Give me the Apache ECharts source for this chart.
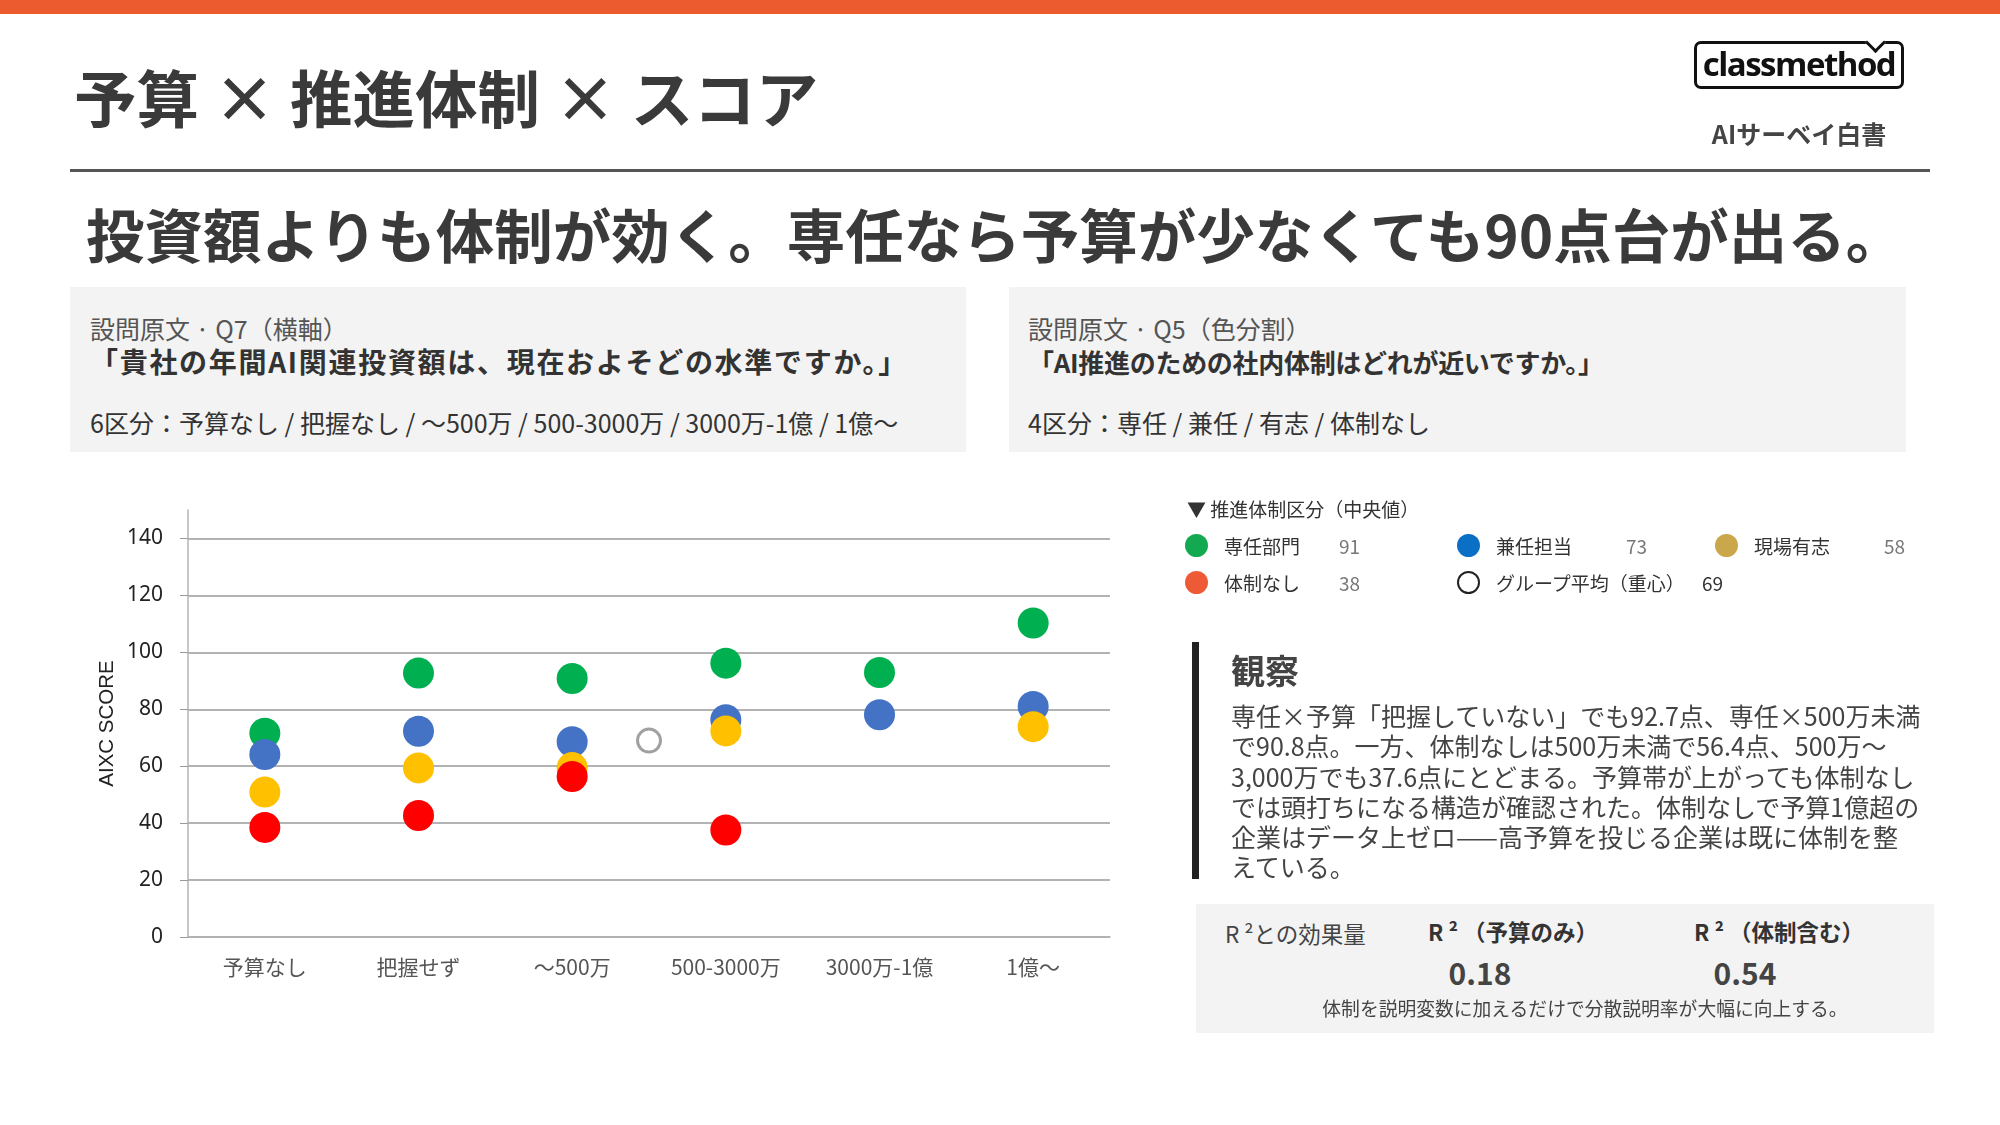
<!DOCTYPE html>
<html>
<head>
<meta charset="utf-8">
<script src="https://cdn.jsdelivr.net/npm/echarts@6/dist/echarts.min.js"></script>
<style>
  html, body { margin: 0; padding: 0; background: #fff; }
  #page { position: relative; width: 2000px; height: 1125px; overflow: hidden;
    font-family: "Noto Sans CJK JP", "Noto Sans", sans-serif; color: #333; }
  #chart { position: absolute; left: 0; top: 0; width: 2000px; height: 1125px; }
  .abs { position: absolute; white-space: nowrap; }
  .box { position: absolute; background: #f3f3f3; }
  .dot { position: absolute; width: 23px; height: 23px; border-radius: 50%; }
  .lg { position: absolute; font-size: 19px; color: #333; line-height: 24px; white-space: nowrap; }
  .lv { position: absolute; font-size: 19px; color: #777; line-height: 24px; }
</style>
</head>
<body>
<div id="page">
  <div id="chart"></div>

  <div class="abs" style="left:0;top:0;width:2000px;height:14px;background:#ec5a30;"></div>
  <div class="abs" style="left:74px;top:56px;font-size:62.5px;font-weight:700;color:#3a3a3a;line-height:80px;">予算 × 推進体制 × スコア</div>

  <div class="abs" style="left:1694px;top:41px;width:204px;height:42px;border:3px solid #111;border-radius:7px;"></div>
  <div class="abs" style="left:1868px;top:35px;width:12px;height:12px;background:#fff;border-right:3px solid #111;border-bottom:3px solid #111;transform:rotate(45deg);"></div>
  <div class="abs" style="left:1694px;top:42px;width:210px;text-align:center;font-family:'Open Sans','Noto Sans',sans-serif;font-size:33px;font-weight:700;color:#111;line-height:44px;letter-spacing:-1.5px;">classmethod</div>
  <div class="abs" style="left:1694px;top:117px;width:210px;text-align:center;font-size:25px;font-weight:700;color:#444;line-height:32px;">AIサーベイ白書</div>

  <div class="abs" style="left:70px;top:169px;width:1860px;height:3px;background:#555;"></div>

  <div class="abs" style="left:86px;top:199px;font-size:58.5px;font-weight:700;color:#3a3a3a;line-height:68px;">投資額よりも体制が効く。専任なら予算が少なくても90点台が出る。</div>

  <div class="box" style="left:70px;top:287px;width:896px;height:165px;"></div>
  <div class="abs" style="left:90px;top:313px;font-size:25px;color:#555;line-height:30px;">設問原文 · Q7（横軸）</div>
  <div class="abs" style="left:90px;top:343px;font-size:28px;font-weight:700;color:#333;line-height:36px;letter-spacing:1.7px;">「貴社の年間AI関連投資額は、現在およそどの水準ですか。」</div>
  <div class="abs" style="left:90px;top:407px;font-size:25px;color:#333;line-height:30px;">6区分：予算なし / 把握なし / 〜500万 / 500-3000万 / 3000万-1億 / 1億〜</div>

  <div class="box" style="left:1009px;top:287px;width:897px;height:165px;"></div>
  <div class="abs" style="left:1028px;top:313px;font-size:25px;color:#555;line-height:30px;">設問原文 · Q5（色分割）</div>
  <div class="abs" style="left:1028px;top:344px;font-size:26px;font-weight:700;color:#333;line-height:36px;letter-spacing:-0.3px;">「AI推進のための社内体制はどれが近いですか。」</div>
  <div class="abs" style="left:1028px;top:407px;font-size:25px;color:#333;line-height:30px;">4区分：専任 / 兼任 / 有志 / 体制なし</div>

  <div class="lg" style="left:1187px;top:497px;">▼ 推進体制区分（中央値）</div>
  <div class="dot" style="left:1185px;top:534px;background:#12a950;"></div>
  <div class="lg" style="left:1224px;top:534px;">専任部門</div>
  <div class="lv" style="left:1339px;top:534px;">91</div>
  <div class="dot" style="left:1457px;top:534px;background:#0b6fc6;"></div>
  <div class="lg" style="left:1496px;top:534px;">兼任担当</div>
  <div class="lv" style="left:1626px;top:534px;">73</div>
  <div class="dot" style="left:1715px;top:534px;background:#c9a74a;"></div>
  <div class="lg" style="left:1754px;top:534px;">現場有志</div>
  <div class="lv" style="left:1884px;top:534px;">58</div>
  <div class="dot" style="left:1185px;top:571px;background:#ee5a35;"></div>
  <div class="lg" style="left:1224px;top:571px;">体制なし</div>
  <div class="lv" style="left:1339px;top:571px;">38</div>
  <div class="dot" style="left:1457px;top:571px;width:19px;height:19px;border:2px solid #222;background:#fff;"></div>
  <div class="lg" style="left:1496px;top:571px;">グループ平均（重心）</div>
  <div class="lg" style="left:1702px;top:571px;">69</div>

  <div class="abs" style="left:1192px;top:642px;width:7px;height:237px;background:#222;"></div>
  <div class="abs" style="left:1231px;top:648px;font-size:34px;font-weight:700;color:#444;line-height:44px;">観察</div>
  <div class="abs" style="left:1231px;top:700px;font-size:25px;color:#444;line-height:30.3px;">専任×予算「把握していない」でも92.7点、専任×500万未満<br>で90.8点。一方、体制なしは500万未満で56.4点、500万〜<br>3,000万でも37.6点にとどまる。予算帯が上がっても体制なし<br>では頭打ちになる構造が確認された。体制なしで予算1億超の<br>企業はデータ上ゼロ——高予算を投じる企業は既に体制を整<br>えている。</div>

  <div class="box" style="left:1196px;top:904px;width:738px;height:129px;"></div>
  <div class="abs" style="left:1225px;top:918px;font-size:22.5px;color:#444;line-height:30px;">R ²との効果量</div>
  <div class="abs" style="left:1413px;top:916px;width:200px;text-align:center;font-size:22.5px;font-weight:700;color:#333;line-height:30px;">R ² （予算のみ）</div>
  <div class="abs" style="left:1679px;top:916px;width:200px;text-align:center;font-size:22.5px;font-weight:700;color:#333;line-height:30px;">R ² （体制含む）</div>
  <div class="abs" style="left:1380px;top:953px;width:200px;text-align:center;font-size:30px;font-weight:700;color:#444;line-height:38px;">0.18</div>
  <div class="abs" style="left:1645px;top:953px;width:200px;text-align:center;font-size:30px;font-weight:700;color:#444;line-height:38px;">0.54</div>
  <div class="abs" style="left:1196px;top:995px;width:778px;text-align:center;font-size:18.8px;color:#444;line-height:26px;">体制を説明変数に加えるだけで分散説明率が大幅に向上する。</div>
</div>

<script>
// 予算区分（横軸）
var categories = ['予算なし', '把握せず', '～500万', '500-3000万', '3000万-1億', '1億～'];
var yTicks = [0, 20, 40, 60, 80, 100, 120, 140];

// 推進体制ごとのスコア（null = 該当なし）
var senninScores = [71.6, 92.7, 90.8, 96.2, 92.9, 110.3];
var kenninScores = [64.1, 72.3, 68.6, 76.3, 78.1, 81.0];
var yushiScores = [50.9, 59.4, 59.5, 72.4, null, 73.9];
var nashiScores = [38.5, 42.7, 56.4, 37.6, null, null];

// グループ平均（重心） [横位置, スコア]
var centroid = [2.5, 69];

var chart = echarts.init(document.getElementById('chart'));

function dotSeries(name, data, color) {
  return {
    name: name,
    type: 'scatter',
    xAxisIndex: 0,
    yAxisIndex: 0,
    data: data,
    symbolSize: 31,
    itemStyle: { color: color, opacity: 1 },
    emphasis: { disabled: true }
  };
}

var option = {
  animation: false,
  backgroundColor: 'transparent',
  grid: { left: 188, top: 510, width: 922, height: 427, containLabel: false },
  xAxis: [
    {
      type: 'category',
      data: categories,
      boundaryGap: true,
      axisLine: { lineStyle: { color: '#b3b3b3', width: 1.5 } },
      axisTick: { show: false },
      axisLabel: { color: '#555', fontSize: 21, margin: 20,
        fontFamily: '"Noto Sans CJK JP", sans-serif' },
      splitLine: { show: false }
    },
    { type: 'value', min: -0.5, max: 5.5, show: false }
  ],
  yAxis: {
    type: 'value',
    min: 0,
    max: 150,
    interval: 20,
    name: 'AIXC SCORE',
    nameLocation: 'middle',
    nameRotate: 90,
    nameGap: 70,
    nameTextStyle: { color: '#222', fontSize: 20.5, fontFamily: '"Liberation Sans", Arial, sans-serif' },
    axisLine: { show: true, onZero: false, lineStyle: { color: '#b3b3b3', width: 1.5 } },
    axisTick: { show: true, length: 8, customValues: yTicks, lineStyle: { color: '#999' } },
    axisLabel: { color: '#222', fontSize: 21, margin: 25, customValues: yTicks,
      fontFamily: '"Noto Sans", sans-serif' },
    splitLine: { show: true, lineStyle: { color: '#9a9a9a', width: 1.5 } }
  },
  series: [
    dotSeries('専任部門', senninScores, '#00b050'),
    dotSeries('兼任担当', kenninScores, '#4472c4'),
    dotSeries('現場有志', yushiScores, '#ffc000'),
    dotSeries('体制なし', nashiScores, '#ff0000'),
    {
      name: 'グループ平均（重心）',
      type: 'scatter',
      xAxisIndex: 1,
      yAxisIndex: 0,
      data: [centroid],
      symbolSize: 23,
      itemStyle: { color: '#fff', borderColor: '#8a8a8a', borderWidth: 3 },
      emphasis: { disabled: true }
    }
  ]
};

chart.setOption(option);
</script>
</body>
</html>
